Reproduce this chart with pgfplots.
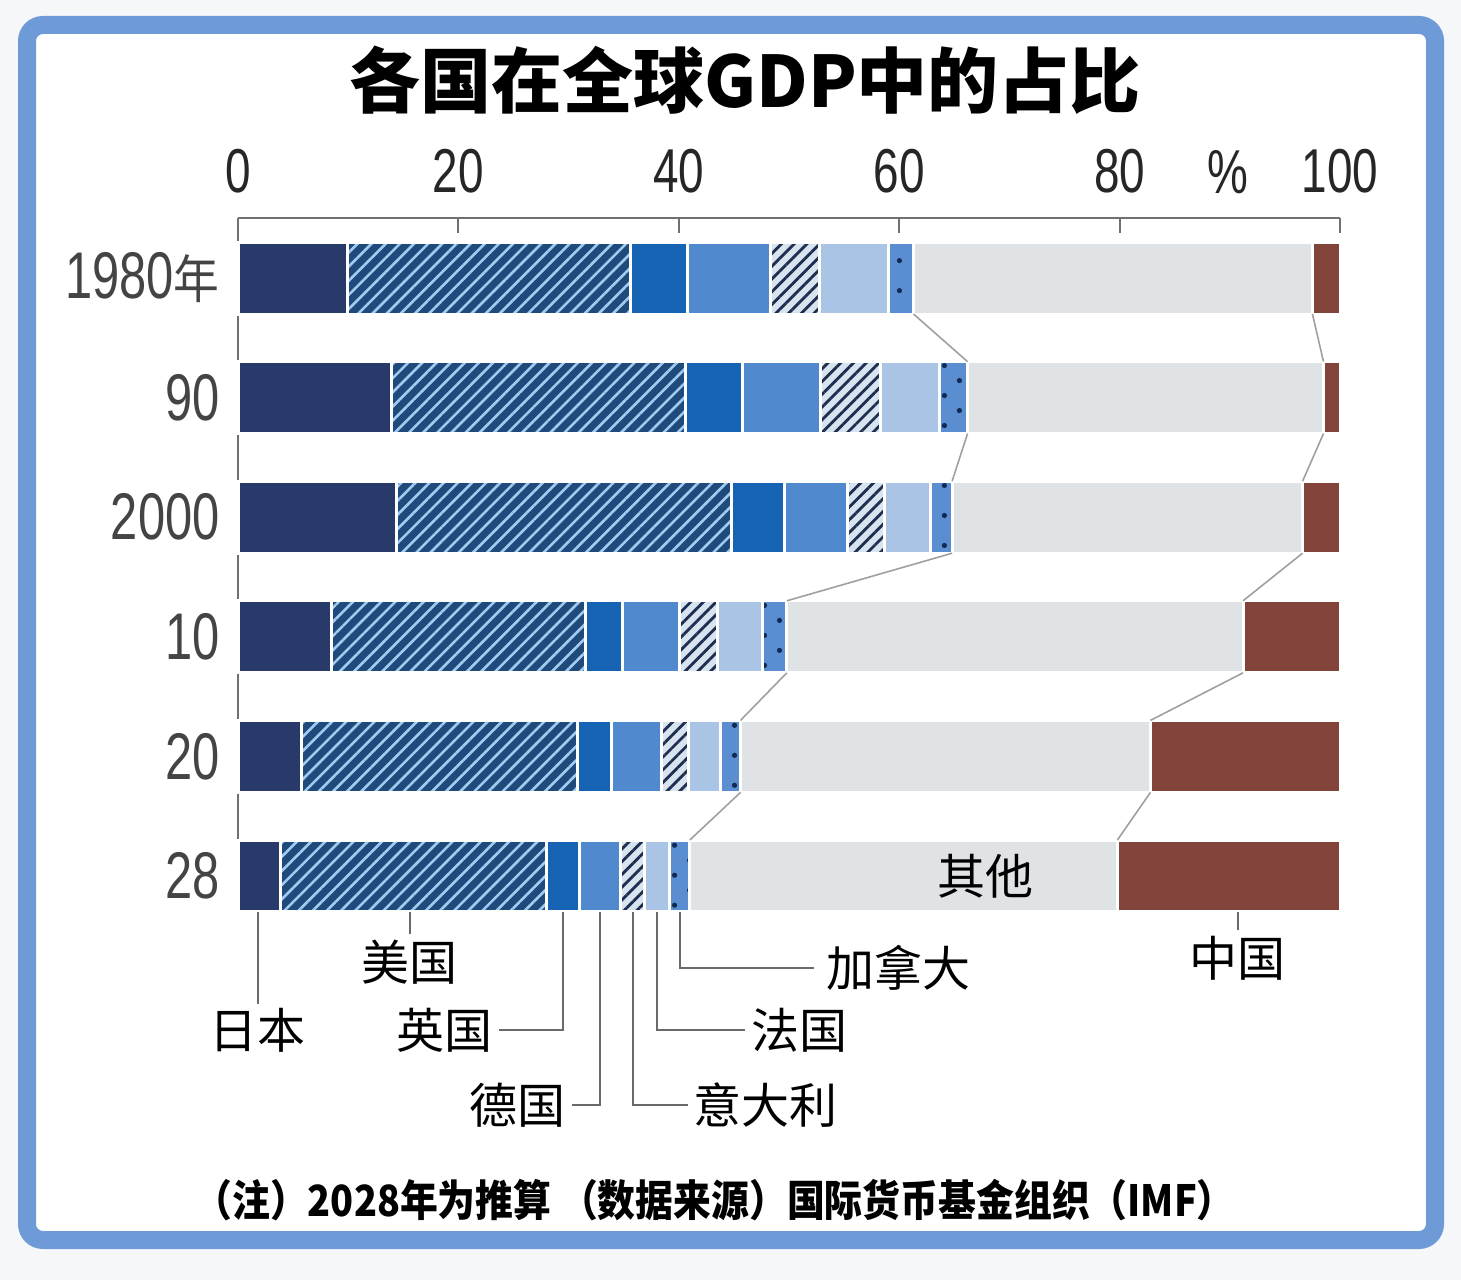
\documentclass[border=0pt]{standalone}
\usepackage{pgfplots}
\pgfplotsset{compat=1.18}
\usepackage{fontspec}
\usetikzlibrary{patterns.meta}
\setmainfont{Noto Sans CJK SC}
\newfontfamily\numfont{Liberation Sans}[FakeStretch=0.74]
\newfontfamily\cjkcond{Noto Sans CJK SC}[FakeStretch=0.88]
\definecolor{bgc}{HTML}{F5F7F9}
\definecolor{framec}{HTML}{6E9BD8}
\definecolor{cjp}{HTML}{283A6A}
\definecolor{cus}{HTML}{1F4A7C}
\definecolor{cusl}{HTML}{A3CBF0}
\definecolor{cuk}{HTML}{1663B4}
\definecolor{cde}{HTML}{5189CF}
\definecolor{cit}{HTML}{D8E3F0}
\definecolor{citl}{HTML}{1E2E50}
\definecolor{cfr}{HTML}{A9C4E4}
\definecolor{cca}{HTML}{5B8ED0}
\definecolor{ccad}{HTML}{0F2A55}
\definecolor{cot}{HTML}{E0E3E5}
\definecolor{ccn}{HTML}{82443A}
\definecolor{axisc}{HTML}{707070}
\definecolor{leadc}{HTML}{6A6A6A}
\definecolor{linkc}{HTML}{A0A0A0}
\definecolor{ylabc}{HTML}{444444}
\begin{document}
\begin{tikzpicture}
\fill[bgc] (0pt,0pt) rectangle (730.5pt,640pt);
\draw[framec, line width=9pt, fill=white, rounded corners=8pt] (13.5pt,20pt) rectangle (717.5pt,627.5pt);
\node[font=\bfseries\fontsize{35.5}{38}\selectfont] at (372.5pt,600pt) {各国在全球GDP中的占比};
\node[font=\cjkcond\bfseries\fontsize{21.5}{23}\selectfont, anchor=west, inner sep=0pt] at (97pt,40pt) {（注）2028年为推算 （数据来源）国际货币基金组织（IMF）};

\begin{axis}[at={(119pt,184pt)}, anchor=south west, scale only axis,
  width=551pt, height=347pt,
  xbar stacked, bar width=0.602,
  xmin=0, xmax=100, ymin=-0.301, ymax=5.502,
  axis x line=top, axis y line=left,
  axis line style={-, draw=axisc, line width=1pt},
  xtick={0,20,40,60,80,100}, xticklabels={0,20,40,60,80,100},
  tick align=inside, major tick length=7.5pt,
  xtick style={draw=axisc, line width=1pt},
  xticklabel style={font=\numfont\fontsize{31}{31}\selectfont, text=black!85, inner sep=0pt, yshift=12pt},
  ytick={0,1,2,3,4,5},
  yticklabels={28,20,10,2000,90,{1980{\cjkcond\fontsize{26}{26}\selectfont 年}}},
  ytick style={draw=none},
  yticklabel style={font=\numfont\fontsize{33}{33}\selectfont, text=ylabc, inner sep=0pt, xshift=-9pt},
  clip=false]
\addplot[fill=cjp, draw=white, line width=1.5pt] coordinates {(9.9,5) (13.9,4) (14.4,3) (8.5,2) (5.8,1) (3.9,0)};
\addplot[fill=cus, draw=white, line width=1.5pt,
  postaction={pattern={Lines[angle=45,distance=5pt,line width=1.3pt]}, pattern color=cusl}]
  coordinates {(25.7,5) (26.7,4) (30.4,3) (23.0,2) (25.0,1) (24.1,0)};
\addplot[fill=cuk, draw=white, line width=1.5pt] coordinates {(5.2,5) (5.2,4) (4.8,3) (3.4,2) (3.1,1) (3.0,0)};
\addplot[fill=cde, draw=white, line width=1.5pt] coordinates {(7.5,5) (7.1,4) (5.7,3) (5.2,2) (4.5,1) (3.7,0)};
\addplot[fill=cit, draw=white, line width=1.5pt,
  postaction={pattern={Lines[angle=45,distance=4.5pt,line width=1.4pt]}, pattern color=citl}]
  coordinates {(4.5,5) (5.4,4) (3.4,3) (3.4,2) (2.5,1) (2.2,0)};
\addplot[fill=cfr, draw=white, line width=1.5pt] coordinates {(6.2,5) (5.4,4) (4.1,3) (4.1,2) (2.9,1) (2.3,0)};
\addplot[fill=cca, draw=white, line width=1.5pt,
  postaction={pattern={Dots[distance=10.6pt,angle=45,radius=1.3pt]}, pattern color=ccad}]
  coordinates {(2.3,5) (2.5,4) (2.0,3) (2.2,2) (1.8,1) (1.8,0)};
\addplot[fill=cot, draw=white, line width=1.5pt] coordinates {(36.2,5) (32.3,4) (31.8,3) (41.4,2) (37.2,1) (38.8,0)};
\addplot[fill=ccn, draw=white, line width=1.5pt] coordinates {(2.5,5) (1.5,4) (3.4,3) (8.8,2) (17.2,1) (20.2,0)};
\end{axis}

\begin{axis}[at={(119pt,184pt)}, anchor=south west, scale only axis,
  width=551pt, height=347pt,
  xmin=0, xmax=100, ymin=-0.301, ymax=5.502,
  hide axis, clip=false]
\addplot[linkc, line width=0.8pt] coordinates {(61.3,4.699) (66.2,4.301)};
\addplot[linkc, line width=0.8pt] coordinates {(66.2,3.699) (64.8,3.301)};
\addplot[linkc, line width=0.8pt] coordinates {(64.8,2.699) (49.8,2.301)};
\addplot[linkc, line width=0.8pt] coordinates {(49.8,1.699) (45.6,1.301)};
\addplot[linkc, line width=0.8pt] coordinates {(45.6,0.699) (41.0,0.301)};
\addplot[linkc, line width=0.8pt] coordinates {(97.5,4.699) (98.5,4.301)};
\addplot[linkc, line width=0.8pt] coordinates {(98.5,3.699) (96.6,3.301)};
\addplot[linkc, line width=0.8pt] coordinates {(96.6,2.699) (91.2,2.301)};
\addplot[linkc, line width=0.8pt] coordinates {(91.2,1.699) (82.8,1.301)};
\addplot[linkc, line width=0.8pt] coordinates {(82.8,0.699) (79.8,0.301)};
\path (axis cs:89.8,5.502) ++(0pt,23pt) node[font=\numfont\fontsize{31}{31}\selectfont, text=black!85] {\%};
\begin{scope}[leadc, line width=1pt]
\draw (axis cs:1.8,-0.301) -- ++(0pt,-46pt);
\draw (axis cs:15.6,-0.301) -- ++(0pt,-11pt);
\draw (axis cs:29.5,-0.301) -- ++(0pt,-59pt) -- ++(-32pt,0pt);
\draw (axis cs:32.85,-0.301) -- ++(0pt,-96.5pt) -- ++(-14pt,0pt);
\draw (axis cs:35.8,-0.301) -- ++(0pt,-96.5pt) -- ++(27.5pt,0pt);
\draw (axis cs:38.05,-0.301) -- ++(0pt,-59pt) -- ++(44pt,0pt);
\draw (axis cs:40.1,-0.301) -- ++(0pt,-28pt) -- ++(67pt,0pt);
\draw (axis cs:90.7,-0.301) -- ++(0pt,-9pt);
\end{scope}
\begin{scope}[every node/.style={font=\fontsize{24}{24}\selectfont, inner sep=1pt, text=black}]
\path (axis cs:1.8,-0.301) ++(0pt,-59pt) node {日本};
\path (axis cs:15.6,-0.301) ++(0pt,-25pt) node {美国};
\path (axis cs:29.5,-0.301) ++(-34pt,-59pt) node[anchor=east] {英国};
\path (axis cs:32.85,-0.301) ++(-16pt,-96.5pt) node[anchor=east] {德国};
\path (axis cs:35.8,-0.301) ++(29.5pt,-96.5pt) node[anchor=west] {意大利};
\path (axis cs:38.05,-0.301) ++(46pt,-59pt) node[anchor=west] {法国};
\path (axis cs:40.1,-0.301) ++(72pt,-28pt) node[anchor=west] {加拿大};
\path (axis cs:90.7,-0.301) ++(0pt,-23pt) node {中国};
\node at (axis cs:67.8,0) {其他};
\end{scope}
\end{axis}
\end{tikzpicture}
\end{document}
